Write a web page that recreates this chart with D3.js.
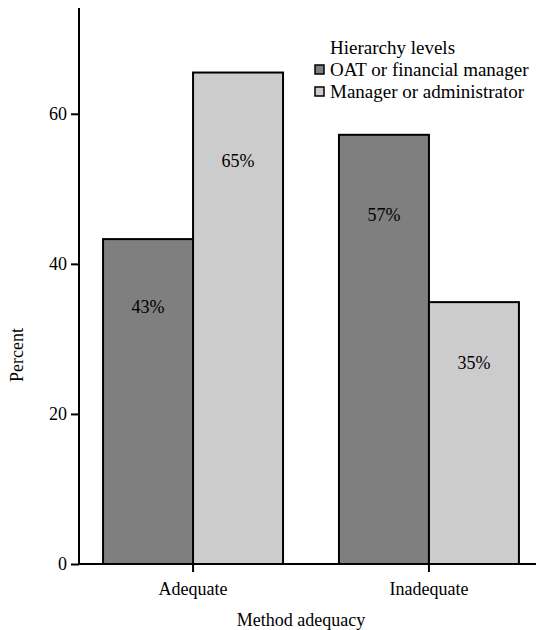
<!DOCTYPE html>
<html>
<head>
<script src="https://d3js.org/d3.v7.min.js"></script>
<style>
  body { margin: 0; background: #fff; }
  svg text { font-family: "Liberation Serif", "Times New Roman", "DejaVu Serif", serif !important; }
</style>
</head>
<body>
<svg id="chart" width="536" height="630"></svg>
<script>
// categories and series (percent values)
var categories = ["Adequate", "Inadequate"];
var seriesNames = ["OAT or financial manager", "Manager or administrator"];
var oatValues = [43.3, 57.2];
var managerValues = [65.5, 34.9];
var barLabels = [["43%", "57%"], ["65%", "35%"]];
var yTicks = [0, 20, 40, 60];
var colors = ["#7f7f7f", "#cccccc"];

var svg = d3.select("#chart");
var x0 = 79, yBase = 564, yTop = 8;

var y = d3.scaleLinear().domain([0, 74.1]).range([yBase, yTop]);
var x = d3.scaleBand().domain(categories).range([x0, 543])
  .paddingInner(0.237).paddingOuter(0.102);
var xs = d3.scaleBand().domain([0, 1]).range([0, x.bandwidth()]);

var series = [oatValues, managerValues];

// bars
series.forEach(function(vals, s) {
  svg.append("g").selectAll("rect")
    .data(vals)
    .enter().append("rect")
    .attr("x", function(d, i) { return x(categories[i]) + xs(s); })
    .attr("y", function(d) { return y(d); })
    .attr("width", xs.bandwidth())
    .attr("height", function(d) { return y(0) - y(d); })
    .attr("fill", colors[s])
    .attr("stroke", "#000")
    .attr("stroke-width", 2);
});

// value labels inside bars
series.forEach(function(vals, s) {
  svg.append("g").selectAll("text")
    .data(vals)
    .enter().append("text")
    .attr("x", function(d, i) { return x(categories[i]) + xs(s) + xs.bandwidth() / 2; })
    .attr("y", function(d) { return y(d) + 0.12 * (y(0) - y(d)) + 35; })
    .attr("text-anchor", "middle")
    .attr("font-size", 18)
    .text(function(d, i) { return barLabels[s][i]; });
});

// y axis
var yAxis = svg.append("g")
  .attr("transform", "translate(" + x0 + ",0)")
  .call(d3.axisLeft(y).tickValues(yTicks).tickSize(8).tickPadding(4));
yAxis.attr("font-family", null);
yAxis.select(".domain").attr("d", "M0," + yBase + "V" + yTop).attr("stroke-width", 2);
yAxis.selectAll(".tick line").attr("stroke-width", 2);
yAxis.selectAll(".tick text").attr("font-size", 18);

// x axis
var xAxis = svg.append("g")
  .attr("transform", "translate(0," + yBase + ")")
  .call(d3.axisBottom(x).tickSize(8).tickPadding(10));
xAxis.attr("font-family", null);
xAxis.select(".domain").attr("d", "M" + x0 + ",0H536").attr("stroke-width", 2);
xAxis.selectAll(".tick line").attr("stroke-width", 2);
xAxis.selectAll(".tick text").attr("font-size", 18);

// axis titles
svg.append("text")
  .attr("x", 301).attr("y", 626)
  .attr("text-anchor", "middle")
  .attr("font-size", 18)
  .text("Method adequacy");
svg.append("text")
  .attr("transform", "translate(23,355) rotate(-90)")
  .attr("text-anchor", "middle")
  .attr("font-size", 18)
  .text("Percent");

// legend
var legend = svg.append("g").attr("transform", "translate(314,0)");
legend.append("text")
  .attr("x", 16).attr("y", 54)
  .attr("font-size", 19)
  .text("Hierarchy levels");
seriesNames.forEach(function(name, i) {
  legend.append("rect")
    .attr("x", 1).attr("y", 65 + i * 22)
    .attr("width", 9).attr("height", 9)
    .attr("fill", colors[i])
    .attr("stroke", "#000")
    .attr("stroke-width", 1.5);
  legend.append("text")
    .attr("x", 16).attr("y", 76 + i * 22)
    .attr("font-size", 19)
    .text(name);
});
</script>
</body>
</html>
